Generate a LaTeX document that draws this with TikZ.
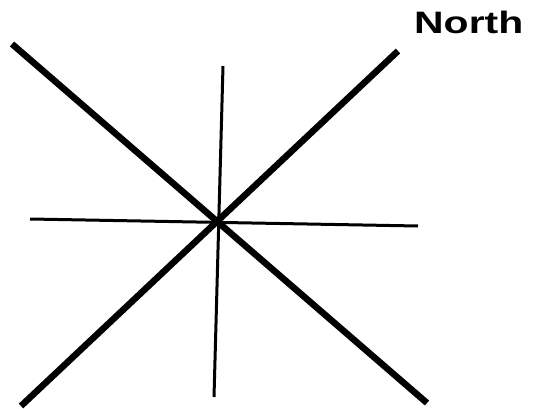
\documentclass[tikz,border=0pt]{standalone}
\usepackage{fontspec}
\setmainfont{Liberation Sans}
\usepackage{tikz}
\usetikzlibrary{calc}
\tikzset{
    diagline/.style={draw=black, line width=6.5pt},
    axisline/.style={draw=black, line width=3pt},
    compass/.style={font=\bfseries\fontsize{31}{31}\selectfont, inner sep=0pt, anchor=base west}
}

\begin{document}
\begin{tikzpicture}[x=1pt, y=-1pt]
    \useasboundingbox (0,0) rectangle (533,409);
    % end points of the cross
    \coordinate (nw) at (12,44);
    \coordinate (se) at (427,403);
    \coordinate (sw) at (21,406);
    \coordinate (ne) at (398,51);
    \coordinate (top) at (223,66);
    \coordinate (bot) at (214,397);
    \coordinate (west) at (30,219);
    \coordinate (east) at (418,226);
    \draw[axisline] (west) -- (east);
    \draw[axisline] (top) -- (bot);
    \draw[diagline] (nw) -- (se);
    \draw[diagline] (sw) -- (ne);
    \node[compass] (north) at (414,34) {\scalebox{1.32}[1]{North}};
\end{tikzpicture}
\end{document}
